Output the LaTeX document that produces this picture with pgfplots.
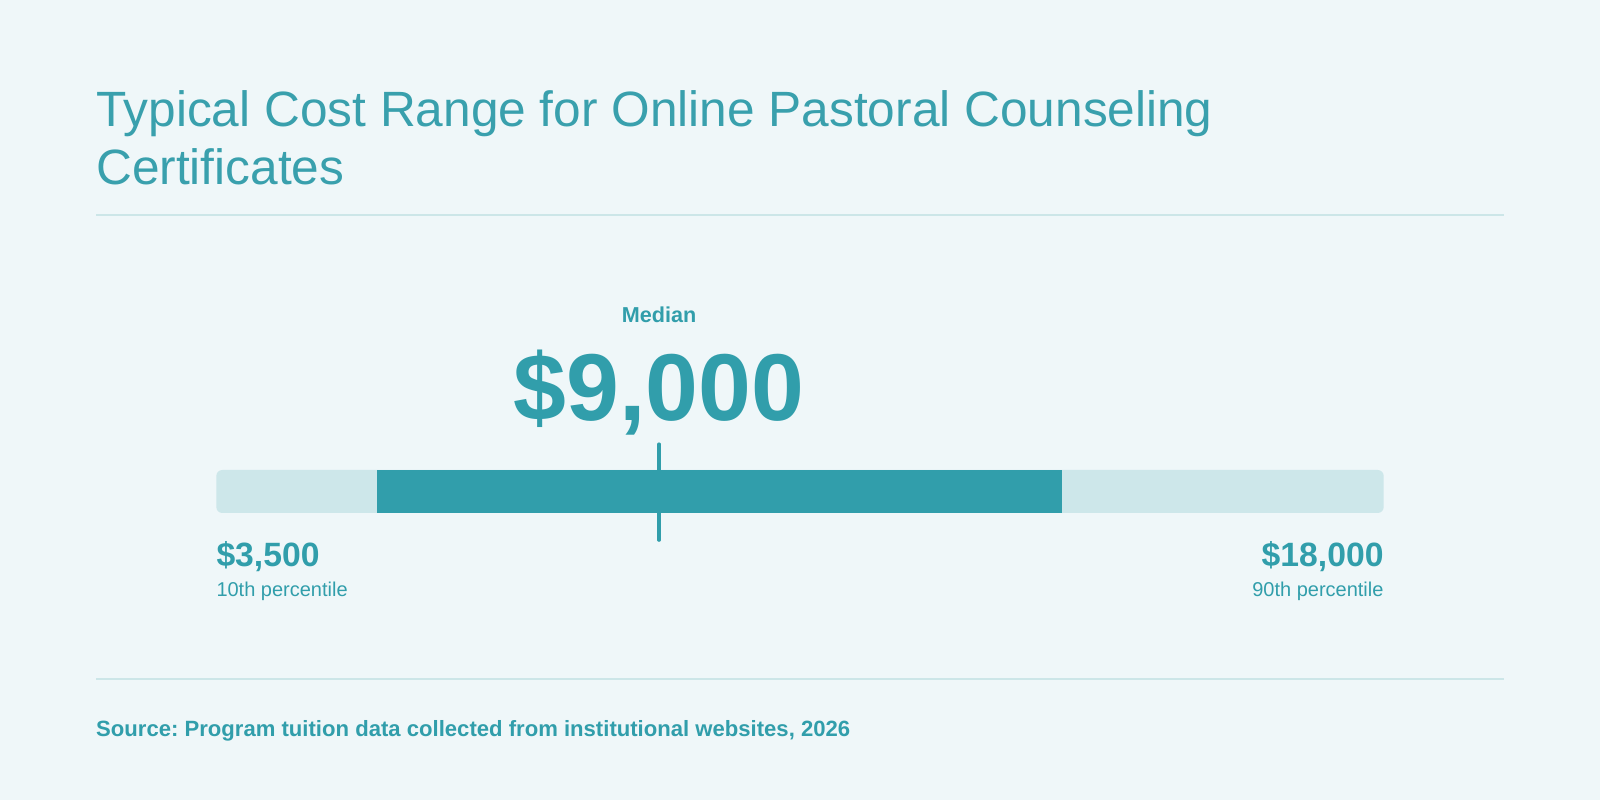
\documentclass[border=0pt]{standalone}
\usepackage{fontspec}
\setmainfont{Liberation Sans}
\usepackage{pgfplots}
\pgfplotsset{compat=1.18}
\definecolor{bg}{HTML}{EFF7F9}
\definecolor{teal}{HTML}{319EAB}
\definecolor{titlec}{HTML}{39A0AD}
\definecolor{lightbar}{HTML}{CDE7EA}
\definecolor{rule}{HTML}{CCE6E8}
\frenchspacing
\begin{document}
\begin{tikzpicture}[x=1bp,y=1bp]
\fill[bg] (0,0) rectangle (1600,800);
\useasboundingbox (0,0) rectangle (1600,800);
% title
\node[anchor=base west, inner sep=0pt, text=titlec, font=\fontsize{49.6bp}{58bp}\selectfont] at (96,673) {Typical Cost Range for Online Pastoral Counseling};
\node[anchor=base west, inner sep=0pt, text=titlec, font=\fontsize{49.6bp}{58bp}\selectfont] at (96,615) {Certificates};
\draw[rule, line width=2bp] (96,584.7) -- (1504,584.7);
\draw[rule, line width=2bp] (96,121.4) -- (1504,121.4);
\node[anchor=base west, inner sep=0pt, text=teal, font=\fontsize{22.1bp}{26bp}\selectfont\bfseries] at (96,63.3) {Source: Program tuition data collected from institutional websites, 2026};
\begin{axis}[
  at={(216.3bp,287bp)}, anchor=south west,
  scale only axis, width=1167.4bp, height=43bp,
  xmin=3500, xmax=18000, ymin=0, ymax=1,
  hide axis, clip=false]
\addplot[fill=lightbar, draw=none, rounded corners=6bp] coordinates {(3500,0) (18000,0) (18000,1) (3500,1)} -- cycle;
\addplot[fill=teal, draw=none] coordinates {(5500,0) (14000,0) (14000,1) (5500,1)} -- cycle;
\addplot[teal, line width=3.5bp, line cap=round] coordinates {(9000,-0.63) (9000,1.6)};
\node[anchor=base, inner sep=0pt, text=teal, font=\fontsize{95bp}{100bp}\selectfont\bfseries] at (axis cs:9000,2.153) {\$9,000};
\node[anchor=base, inner sep=0pt, text=teal, font=\fontsize{21.6bp}{26bp}\selectfont\bfseries] at (axis cs:9000,4.44) {Median};
\node[anchor=base west, inner sep=0pt, text=teal, font=\fontsize{33.7bp}{40bp}\selectfont\bfseries] at (axis cs:3500,-1.24) {\$3,500};
\node[anchor=base west, inner sep=0pt, text=teal, font=\fontsize{20bp}{24bp}\selectfont] at (axis cs:3500,-1.953) {10th percentile};
\node[anchor=base east, inner sep=0pt, text=teal, font=\fontsize{33.7bp}{40bp}\selectfont\bfseries] at (axis cs:18000,-1.24) {\$18,000};
\node[anchor=base east, inner sep=0pt, text=teal, font=\fontsize{20bp}{24bp}\selectfont] at (axis cs:18000,-1.953) {90th percentile};
\end{axis}
\end{tikzpicture}
\end{document}
